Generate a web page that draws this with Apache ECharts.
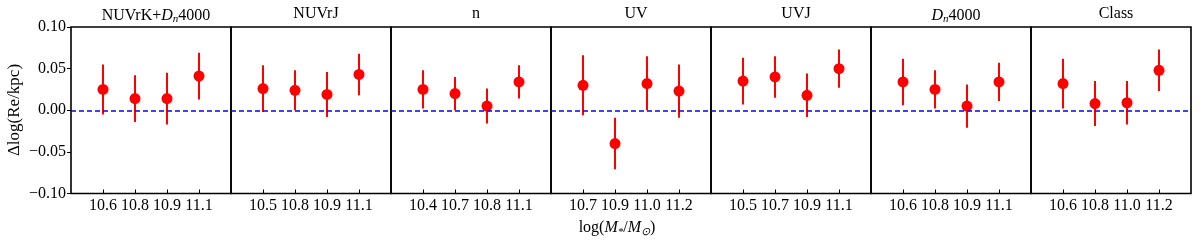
<!DOCTYPE html>
<html>
<head>
<meta charset="utf-8">
<script src="https://cdn.jsdelivr.net/npm/echarts@6/dist/echarts.min.js"></script>
<style>html,body{margin:0;padding:0;background:#fff}#c{width:1200px;height:247px}</style>
</head>
<body>
<div id="c"></div>
<script>
const panelTitles = ['NUVrK+{i|D}{s|n}4000', 'NUVrJ', 'n', 'UV', 'UVJ', '{i|D}{s|n}4000', 'Class'];
const massLabels = [
  ['10.6', '10.8', '10.9', '11.1'],
  ['10.5', '10.8', '10.9', '11.1'],
  ['10.4', '10.7', '10.8', '11.1'],
  ['10.7', '10.9', '11.0', '11.2'],
  ['10.5', '10.7', '10.9', '11.1'],
  ['10.6', '10.8', '10.9', '11.1'],
  ['10.6', '10.8', '11.0', '11.2']
];
const dlogRe = [
  [0.025, 0.014, 0.014, 0.041],
  [0.026, 0.024, 0.019, 0.043],
  [0.025, 0.020, 0.005, 0.034],
  [0.030, -0.040, 0.032, 0.023],
  [0.035, 0.040, 0.018, 0.050],
  [0.034, 0.025, 0.005, 0.034],
  [0.032, 0.008, 0.009, 0.048]
];
const errLower = [
  [-0.005, -0.014, -0.017, 0.013],
  [-0.002, 0.000, -0.008, 0.018],
  [0.002, 0.000, -0.016, 0.014],
  [-0.006, -0.071, 0.000, -0.009],
  [0.007, 0.015, -0.008, 0.027],
  [0.006, 0.002, -0.021, 0.011],
  [0.002, -0.019, -0.017, 0.023]
];
const errUpper = [
  [0.055, 0.042, 0.045, 0.069],
  [0.054, 0.048, 0.046, 0.068],
  [0.048, 0.040, 0.026, 0.054],
  [0.066, -0.009, 0.065, 0.055],
  [0.063, 0.065, 0.044, 0.073],
  [0.062, 0.048, 0.031, 0.057],
  [0.062, 0.035, 0.035, 0.073]
];
const yTicks = [-0.10, -0.05, 0.00, 0.05, 0.10];
const xTitle = 'log({i|M}{s|*}/{i|M}{s|⊙})';
const yTitle = 'Δlog(Re/kpc)';

const FONT = 'Liberation Serif';
const FS = 16;
const L0 = 71, PW = 160, TOP = 27, PH = 166.5;
const rich = {
  i: { fontFamily: FONT, fontStyle: 'italic', fontSize: FS, color: '#000' },
  s: { fontFamily: FONT, fontStyle: 'italic', fontSize: 11, color: '#000', verticalAlign: 'bottom', padding: [8, 0, 0, 0] }
};

const grids = [], xAxes = [], yAxes = [], series = [], titles = [];
panelTitles.forEach((t, p) => {
  grids.push({ left: L0 + p * PW, top: TOP, width: PW, height: PH, show: true, borderColor: '#000', borderWidth: 1.6, backgroundColor: 'transparent' });
  xAxes.push({
    type: 'value', gridIndex: p, min: 0, max: 5, interval: 1, position: 'bottom',
    axisLine: { show: false, onZero: false }, splitLine: { show: false },
    axisTick: { show: true, inside: true, length: 4, customValues: [1, 2, 3, 4], lineStyle: { color: '#000', width: 1 } },
    axisLabel: { customValues: [1, 2, 3, 4], margin: 4, fontFamily: FONT, fontSize: FS, color: '#000',
      formatter: v => massLabels[p][Math.round(v) - 1] || '' }
  });
  yAxes.push({
    type: 'value', gridIndex: p, min: -0.10, max: 0.10, interval: 0.05, position: 'left',
    axisLine: { show: false, onZero: false }, splitLine: { show: false },
    axisTick: { show: p === 0, inside: false, length: 4, lineStyle: { color: '#000', width: 1 } },
    axisLabel: { show: p === 0, margin: 5, fontFamily: FONT, fontSize: FS, color: '#000',
      formatter: v => { const r = yTicks.find(t => Math.abs(t - v) < 1e-9); const x = (r === undefined ? v : r); return (x < -1e-9 ? '−' : '') + Math.abs(x).toFixed(2); } }
  });
  titles.push({ text: t, left: L0 + p * PW + PW / 2, top: 1, textAlign: 'center',
    textStyle: { fontFamily: FONT, fontSize: FS, fontWeight: 'normal', color: '#000', rich: rich } });
  const pts = dlogRe[p].map((v, i) => [i + 1, v]);
  const bars = dlogRe[p].map((v, i) => [i + 1, errLower[p][i], errUpper[p][i]]);
  series.push({
    type: 'custom', xAxisIndex: p, yAxisIndex: p, data: bars, z: 3,
    renderItem: (params, api) => {
      const a = api.coord([api.value(0), api.value(1)]);
      const b = api.coord([api.value(0), api.value(2)]);
      return { type: 'line', shape: { x1: a[0], y1: a[1], x2: b[0], y2: b[1] }, style: { stroke: '#ff0000', lineWidth: 2 } };
    }
  });
  series.push({
    type: 'scatter', xAxisIndex: p, yAxisIndex: p, data: pts, symbol: 'circle', symbolSize: 11, z: 4,
    itemStyle: { color: '#ff0000', opacity: 1 },
    markLine: { silent: true, symbol: 'none', label: { show: false }, animation: false,
      lineStyle: { color: '#0000ff', type: [5, 3], width: 1.6 }, data: [{ yAxis: 0 }] }
  });
});

const chart = echarts.init(document.getElementById('c'), null, { renderer: 'canvas' });
chart.setOption({
  animation: false,
  title: titles,
  grid: grids, xAxis: xAxes, yAxis: yAxes, series: series,
  graphic: [
    { type: 'text', x: 617, y: 228, style: { text: xTitle, fontFamily: FONT, fontSize: FS, fill: '#000', align: 'center', verticalAlign: 'middle', rich: rich } },
    { type: 'text', x: 15, y: 110, rotation: Math.PI / 2, style: { text: yTitle, fontFamily: FONT, fontSize: 17, fill: '#000', align: 'center', verticalAlign: 'middle' } }
  ]
});
</script>
</body>
</html>
